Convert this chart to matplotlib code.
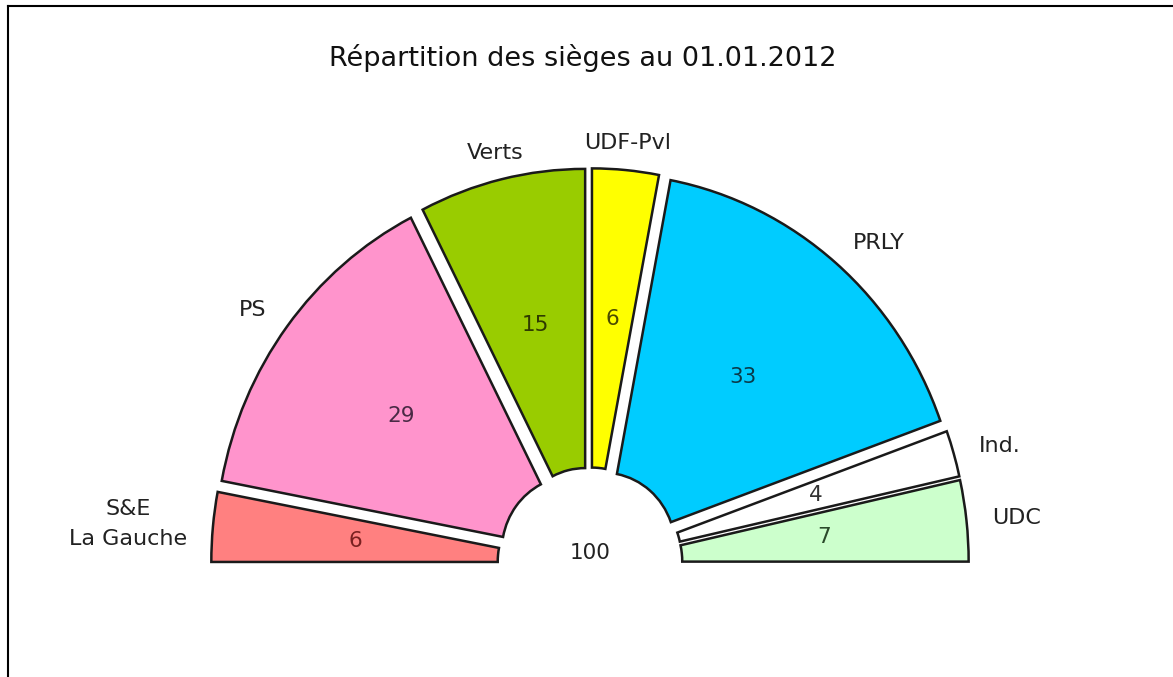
import numpy as np
import matplotlib.pyplot as plt
from matplotlib.lines import Line2D

# seat distribution
parties = ["S&E\nLa Gauche", "PS", "Verts", "UDF-Pvl", "PRLY", "Ind.", "UDC"]
seats = [6, 29, 15, 6, 33, 4, 7]
colors = ["#FF8080", "#FF94CC", "#99CC00", "#FFFF00", "#00CCFF", "#FFFFFF", "#CCFFCC"]
value_colors = ["#7A2020", "#4A2A45", "#2E3A00", "#4A4A00", "#0A3A4A", "#333333", "#2A4A2A"]
total = sum(seats)

plt.rcParams['font.family'] = 'DejaVu Sans'

fig = plt.figure(figsize=(11.73, 6.77), dpi=100)
ax = fig.add_axes([0, 0, 1, 1])

explode = 0.058
# hidden bottom half makes the pie a half circle
wedges, _ = ax.pie(seats + [total], startangle=180, counterclock=False, radius=1,
                   explode=[explode] * len(seats) + [0],
                   colors=colors + ["none"],
                   wedgeprops=dict(width=0.8, edgecolor="#1a1a1a", linewidth=1.8))
wedges[-1].set_visible(False)

for w, name, val, vc in zip(wedges[:-1], parties, seats, value_colors):
    ang = np.deg2rad((w.theta1 + w.theta2) / 2)
    c, s = np.cos(ang), np.sin(ang)
    # value inside the wedge
    r = 0.6 + explode
    ax.text(r * c, r * s, str(val), ha="center", va="center", fontsize=15.5, color=vc)
    # party name outside
    if abs(c) < 0.3:
        ha = "center"
    else:
        ha = "left" if c > 0 else "right"
    ax.text(1.13 * c, 1.13 * s, name, ha=ha, va="center", fontsize=16, color="#222222",
            multialignment="center", linespacing=1.6)

ax.text(0, 0.03, str(total), ha="center", va="center", fontsize=15.5, color="#222222")

ax.set_aspect("auto")
ax.set_xlim(-590 / 358, (1173 - 590) / 358)
ax.set_ylim(-113 / 374, (677 - 113) / 374)
ax.axis("off")

fig.text(0.497, 1 - 58 / 677, "Répartition des sièges au 01.01.2012",
         ha="center", va="center", fontsize=19.5, color="#111111")

# partial frame (top and left)
fig.add_artist(Line2D([8 / 1173, 1], [1 - 6 / 677, 1 - 6 / 677], transform=fig.transFigure,
                      color="black", lw=1.5))
fig.add_artist(Line2D([8 / 1173, 8 / 1173], [0, 1 - 6 / 677], transform=fig.transFigure,
                      color="black", lw=1.5))

fig.savefig("out.png", dpi=100, facecolor="white")
